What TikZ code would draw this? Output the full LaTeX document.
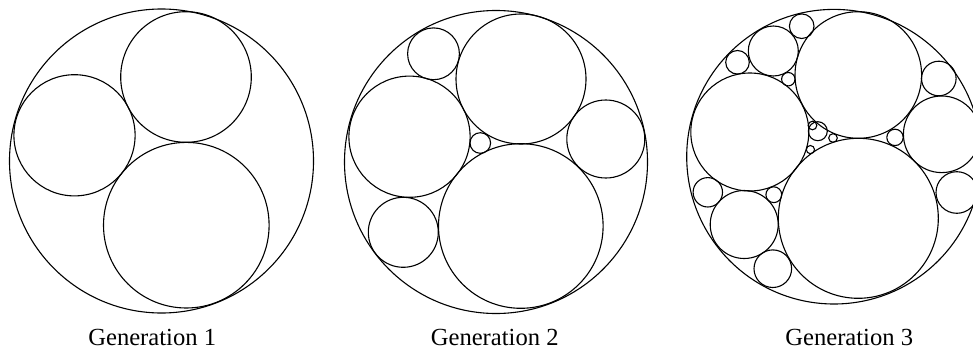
\documentclass[tikz,border=0pt]{standalone}
\usepackage{fontspec}
\setmainfont{Liberation Serif}
\begin{document}
\begin{tikzpicture}[x=1pt,y=-1pt,
  circ/.style={draw=black,line width=1.1pt},
  caption/.style={anchor=base,inner sep=0pt,font=\fontsize{24.6}{26}\selectfont}]
\useasboundingbox (0,0) rectangle (973,353);
\clip (0,0) rectangle (973,353);
% Generation 1
\foreach \x/\y/\r in {161.5/161/152, 186/77/65.3, 74.5/135.3/60.6, 186.3/225.2/82.8}
  \draw[circ] (\x,\y) circle (\r);
% Generation 2
\foreach \x/\y/\r in {496/162/151.5, 521/79/65, 409.5/136.7/60.6, 520.8/226/82.3,
  433.5/53.8/25.9, 605.8/139/39, 403.3/232.3/35, 480.3/143/10.3}
  \draw[circ] (\x,\y) circle (\r);
% Generation 3
\foreach \x/\y/\r in {834/156.7/147.3, 858.3/75/63.3, 749.8/132/59, 858.3/218.3/80,
  773.3/51/25, 941.7/134.3/38.3, 744.2/224.5/34, 817.8/131.2/9.5,
  812.5/125.5/4.3, 833/138/4.3, 810.4/149.6/4.1,
  801.7/26.2/12.3, 737.5/62.3/11.8, 788.3/79.2/6.7,
  938.8/78.5/17.3, 895/137.4/8.2, 956.8/192.5/20.8,
  707.8/192.3/14.7, 773.8/194.7/7.9, 772.8/268.7/18.8}
  \draw[circ] (\x,\y) circle (\r);
% Captions
\node[caption] (g1) at (152.2,345) {Generation 1};
\node[caption] (g2) at (494.7,345) {Generation 2};
\node[caption] (g3) at (849.2,345) {Generation 3};
\end{tikzpicture}
\end{document}
